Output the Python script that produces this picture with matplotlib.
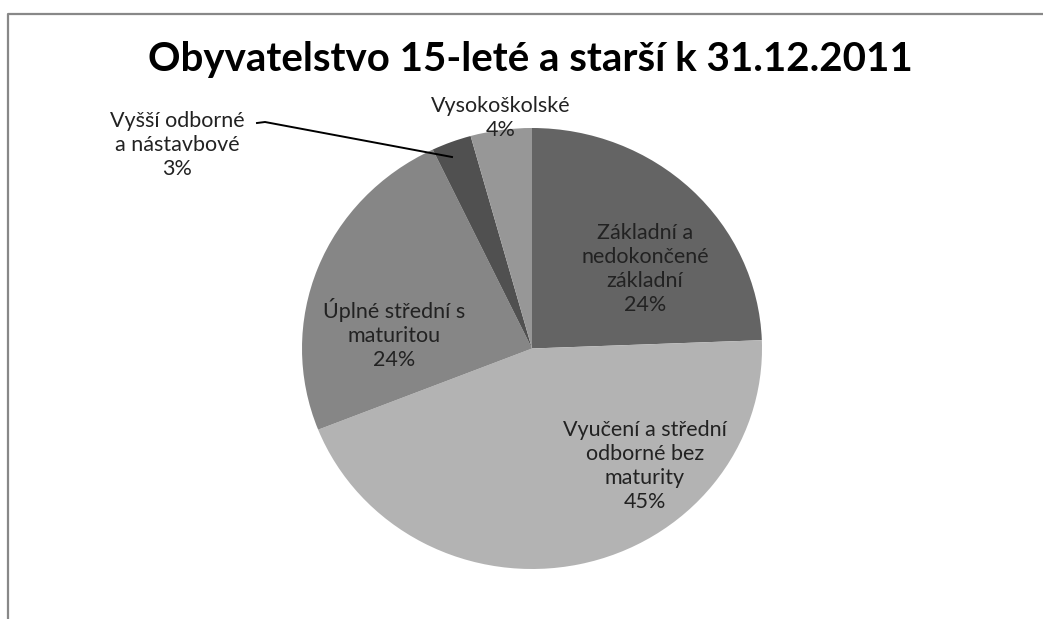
import matplotlib.pyplot as plt
from matplotlib.lines import Line2D

W, H = 1043, 619

categories = ["Základní a\nnedokončené\nzákladní",
              "Vyučení a střední\nodborné bez\nmaturity",
              "Úplné střední s\nmaturitou",
              "Vyšší odborné\na nástavbové",
              "Vysokoškolské"]
shares = [24.4, 44.6, 23.9, 2.8, 4.3]
colors = ["#646464", "#b3b3b3", "#868686", "#505050", "#979797"]

# label centres in pixels (x, y from top)
label_pos = [(645, 269), (645, 466), (394, 334), (177, 145), (501, 118)]

plt.rcParams['font.family'] = ['Lato', 'DejaVu Sans']

fig = plt.figure(figsize=(W / 100, H / 100), dpi=100)

# pie drawn as a slightly wide ellipse, like the original
x0, x1, y0, y1 = 302, 762, 128, 569
ax = fig.add_axes([x0 / W, 1 - y1 / H, (x1 - x0) / W, (y1 - y0) / H])
ax.pie(shares, colors=colors, startangle=90, counterclock=False,
       radius=1, wedgeprops=dict(linewidth=0))
ax.set_aspect('auto')
ax.set_xlim(-1, 1)
ax.set_ylim(-1, 1)
ax.axis('off')

for name, val, (px, py) in zip(categories, shares, label_pos):
    fig.text(px / W, 1 - py / H, f"{name}\n{val:.0f}%", ha='center', va='center',
             fontsize=15.5, color='#222222', linespacing=1.25)

# leader line for the small slice
fig.add_artist(Line2D([257 / W, 265 / W, 452 / W],
                      [1 - 123 / H, 1 - 122 / H, 1 - 157 / H],
                      color='black', lw=1.4))

fig.text(530 / W, 1 - 60 / H, "Obyvatelstvo 15-leté a starší k 31.12.2011",
         ha='center', va='center', fontsize=29, fontweight='bold', color='black')

# chart frame (cropped at right and bottom)
fig.add_artist(Line2D([8 / W, 8 / W, 1], [0, 1 - 14 / H, 1 - 14 / H],
                      color='#888888', lw=1.6))

fig.savefig("out.png", dpi=100)
